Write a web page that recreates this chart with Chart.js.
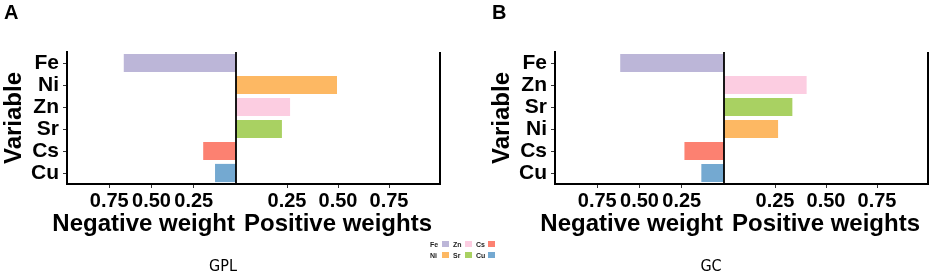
<!DOCTYPE html>
<html>
<head>
<meta charset="utf-8">
<script src="https://cdn.jsdelivr.net/npm/chart.js@4.4.1/dist/chart.umd.min.js"></script>
<style>
  body { margin: 0; width: 935px; height: 278px; background: #fff; position: relative; overflow: hidden; font-family: 'Liberation Sans', Arial, sans-serif; }
  .panel { position: absolute; top: 0; width: 447px; height: 278px; }
  .panel canvas { position: absolute; left: 0; top: 0; }
  .tag { position: absolute; left: 4px; top: 1px; font-weight: bold; font-size: 20px; color: #000; }
  .cap { position: absolute; left: 190px; width: 66px; top: 256px; text-align: center; font-family: 'Liberation Sans Narrow', 'DejaVu Sans Condensed', sans-serif; font-size: 16px; color: #000; }
  #legend { position: absolute; left: 430px; top: 241px; display: flex; gap: 4px; }
  .lcol { display: flex; flex-direction: column; gap: 5px; }
  .litem { display: flex; align-items: center; height: 6px; font-size: 7px; font-weight: bold; color: #222; }
  .litem span { width: 12px; }
  .litem i { display: block; width: 7px; height: 6px; }
</style>
</head>
<body>
<div class="panel" style="left:0px">
  <canvas id="chartA" width="447" height="278"></canvas>
  <div class="tag">A</div>
  <div class="cap">GPL</div>
</div>
<div class="panel" style="left:488px">
  <canvas id="chartB" width="447" height="278"></canvas>
  <div class="tag">B</div>
  <div class="cap">GC</div>
</div>
<div id="legend"></div>
<script>
// weights (negative side drawn to the left)
const categoriesA = ['Fe', 'Ni', 'Zn', 'Sr', 'Cs', 'Cu'];
const weightsA = [-0.67, 0.50, 0.27, 0.23, -0.20, -0.13];

const categoriesB = ['Fe', 'Zn', 'Sr', 'Ni', 'Cs', 'Cu'];
const weightsB = [-0.62, 0.41, 0.34, 0.27, -0.24, -0.14];

const negTicks = [-0.75, -0.5, -0.25];
const posTicks = [0.25, 0.5, 0.75];
const legendOrder = ['Fe', 'Ni', 'Zn', 'Sr', 'Cs', 'Cu'];
const negTitle = 'Negative weight';
const posTitle = 'Positive weights';

const colours = {
    Fe: '#bcb6d8',
    Ni: '#fdb863',
    Zn: '#fccde1',
    Sr: '#a9d162',
    Cs: '#fc8171',
    Cu: '#74a9d1'
};

Chart.defaults.font.family = "'Liberation Sans', Arial, sans-serif";
Chart.defaults.color = '#000';

// zero line, right frame line and the (wider than its axis) negative title
const frameLines = {
    id: 'frameLines',
    afterDatasetsDraw(chart) {
        const { ctx, chartArea } = chart;
        const zero = chart.scales.xPos.getPixelForValue(0);
        ctx.save();
        ctx.strokeStyle = '#000';
        ctx.lineWidth = 1.8;
        ctx.beginPath();
        ctx.moveTo(zero, chartArea.top);
        ctx.lineTo(zero, chartArea.bottom);
        ctx.stroke();
        ctx.lineWidth = 2;
        ctx.beginPath();
        ctx.moveTo(chartArea.right, chartArea.top);
        ctx.lineTo(chartArea.right, chartArea.bottom + 1);
        ctx.stroke();
        ctx.restore();
    },
    afterDraw(chart) {
        const { ctx } = chart;
        const s = chart.scales.xNeg;
        ctx.save();
        ctx.fillStyle = '#000';
        ctx.font = "bold 24px 'Liberation Sans', Arial, sans-serif";
        ctx.textAlign = 'right';
        ctx.textBaseline = 'middle';
        ctx.fillText(negTitle, s.right - 1, s.bottom - 12);
        ctx.restore();
    }
};

const tickGrid = { display: true, drawOnChartArea: false, drawTicks: true, tickLength: 4, color: '#333', offset: false };
const axisBorder = { display: true, color: '#000', width: 2 };
const titleFont = { size: 24, weight: 'bold', lineHeight: 1 };

function xScale(min, max, weight, ticks, text) {
    return {
        type: 'linear',
        position: 'bottom',
        stack: 'x',
        stackWeight: weight,
        min: min,
        max: max,
        afterBuildTicks: s => { s.ticks = ticks.map(v => ({ value: v })); },
        grid: tickGrid,
        border: axisBorder,
        ticks: {
            color: '#000',
            padding: 1,
            maxRotation: 0,
            autoSkip: false,
            font: { size: 20, weight: 'bold' },
            callback: v => Math.abs(v).toFixed(2)
        },
        title: { display: !!text, text: text, color: '#000', font: titleFont, padding: 0 },
        afterFit: s => { s.height = 52; }
    };
}

function makeChart(id, cats, weights) {
    const ctx = document.getElementById(id).getContext('2d');
    const fills = cats.map(c => colours[c]);
    return new Chart(ctx, {
        type: 'bar',
        data: {
            labels: cats,
            datasets: [{
                data: weights.map(v => v < 0 ? v : null),
                xAxisID: 'xNeg',
                backgroundColor: fills
            }, {
                data: weights.map(v => v > 0 ? v : null),
                xAxisID: 'xPos',
                backgroundColor: fills
            }]
        },
        options: {
            indexAxis: 'y',
            responsive: false,
            animation: false,
            layout: { padding: { top: 52, right: 7, bottom: 42, left: 0 } },
            plugins: { legend: { display: false }, tooltip: { enabled: false } },
            datasets: {
                bar: {
                    grouped: false,
                    barPercentage: 0.92,
                    categoryPercentage: 1,
                    borderWidth: 1,
                    borderColor: 'rgba(255,255,255,0.45)'
                }
            },
            scales: {
                y: {
                    type: 'category',
                    position: 'left',
                    offset: true,
                    grid: tickGrid,
                    border: axisBorder,
                    ticks: { color: '#000', padding: 4, autoSkip: false, font: { size: 21, weight: 'bold' } },
                    title: { display: true, text: 'Variable', color: '#000', font: titleFont, padding: { top: 2, bottom: 0 } },
                    afterFit: s => { s.width = 67; }
                },
                xNeg: xScale(-1, 0, 169, negTicks, ''),
                xPos: xScale(0, 1, 204, posTicks, posTitle)
            }
        },
        plugins: [frameLines]
    });
}

makeChart('chartA', categoriesA, weightsA);
makeChart('chartB', categoriesB, weightsB);

// legend, filled by column (two rows)
const legend = document.getElementById('legend');
for (let i = 0; i < legendOrder.length; i += 2) {
    const col = document.createElement('div');
    col.className = 'lcol';
    legendOrder.slice(i, i + 2).forEach(name => {
        const item = document.createElement('div');
        item.className = 'litem';
        item.innerHTML = '<span>' + name + '</span><i style="background:' + colours[name] + '"></i>';
        col.appendChild(item);
    });
    legend.appendChild(col);
}
</script>
</body>
</html>
